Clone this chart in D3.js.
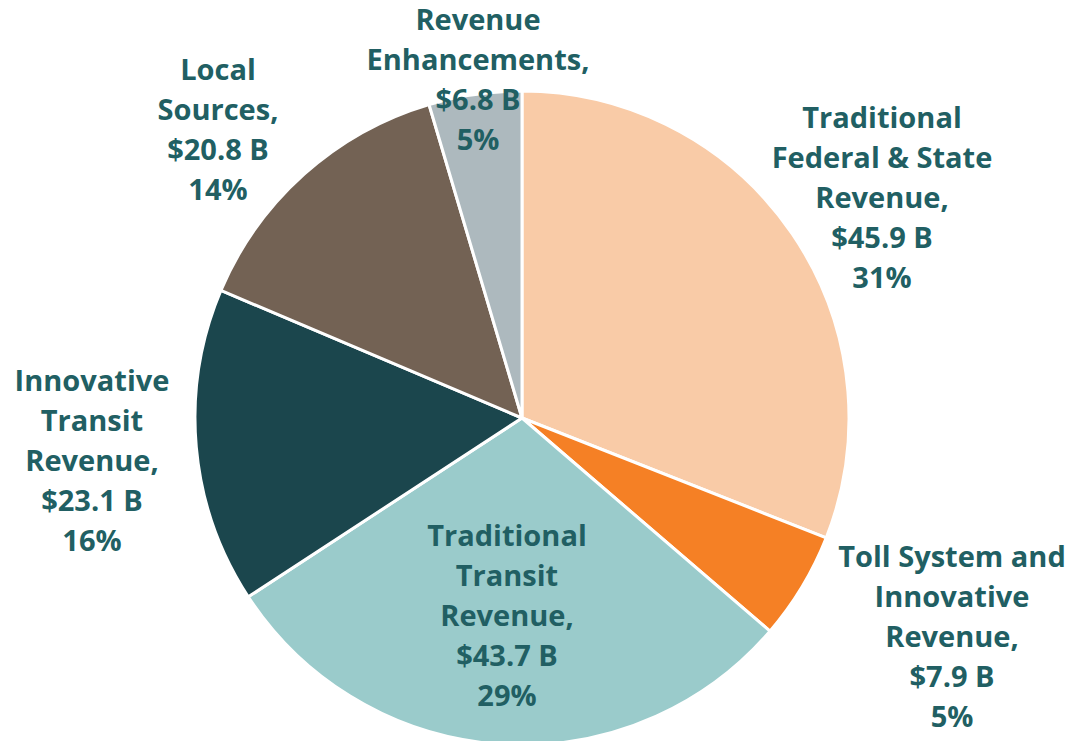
<!DOCTYPE html>
<html><head><meta charset="utf-8">
<script src="https://cdn.jsdelivr.net/npm/d3@7/dist/d3.min.js"></script>
<style>html,body{margin:0;padding:0;background:#fff;}svg{display:block;}</style>
</head><body>
<svg id="chart" width="1074" height="741"></svg>
<script>
const categories = [
  ["Traditional","Federal & State","Revenue,"],
  ["Toll System and","Innovative","Revenue,"],
  ["Traditional","Transit","Revenue,"],
  ["Innovative","Transit","Revenue,"],
  ["Local","Sources,"],
  ["Revenue","Enhancements,"]
];
const values = [45.9, 7.9, 43.7, 23.1, 20.8, 6.8];
const percents = [31, 5, 29, 16, 14, 5];
const colors = ["#f9cba7", "#f58025", "#9acbcb", "#1b464d", "#736254", "#adb9be"];
// label anchor (center x, first-line center y)
const labelPos = [[882,118],[952,557],[507,536],[92,381],[218,70],[478,20]];

const svg = d3.select("#chart");
const cx = 522, cy = 418, r = 327;
const pie = d3.pie().sort(null).value(d => d)(values);
const arc = d3.arc().innerRadius(0).outerRadius(r);
const g = svg.append("g").attr("transform", `translate(${cx},${cy})`);
g.selectAll("path").data(pie).join("path")
  .attr("d", arc).attr("fill", (d,i) => colors[i])
  .attr("stroke", "#fff").attr("stroke-width", 3).attr("stroke-linejoin","round");

const lh = 40;
categories.forEach((lines, i) => {
  const all = lines.concat([`$${values[i].toFixed(1)} B`, `${percents[i]}%`]);
  const t = svg.append("text")
    .attr("text-anchor", "middle")
    .attr("font-family", "'Open Sans', sans-serif")
    .attr("font-weight", 700)
    .attr("font-size", 29)
    .attr("fill", "#215f63");
  all.forEach((s, k) => {
    t.append("tspan").attr("x", labelPos[i][0]).attr("y", labelPos[i][1] + k*lh)
      .attr("dy", "0.35em").text(s);
  });
});
</script>
</body></html>
